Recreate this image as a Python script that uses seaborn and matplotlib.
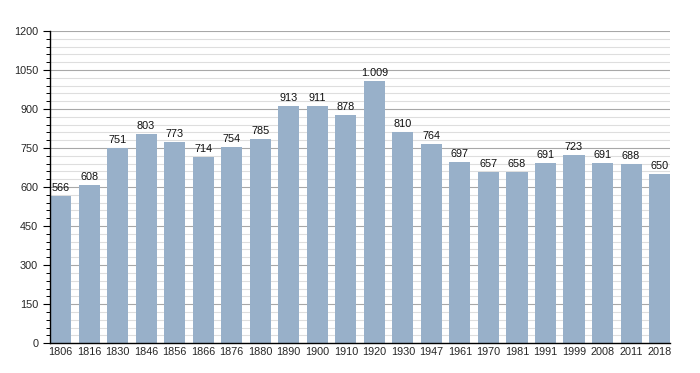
import numpy as np
import pandas as pd
import seaborn as sns
import matplotlib.pyplot as plt
from matplotlib.ticker import MultipleLocator, FuncFormatter

# Population by census year
years = ["1806", "1816", "1830", "1846", "1856", "1866", "1876", "1880", "1890", "1900", "1910",
         "1920", "1930", "1947", "1961", "1970", "1981", "1991", "1999", "2008", "2011", "2018"]
population = [566, 608, 751, 803, 773, 714, 754, 785, 913, 911, 878,
              1009, 810, 764, 697, 657, 658, 691, 723, 691, 688, 650]
labels = ["566", "608", "751", "803", "773", "714", "754", "785", "913", "911", "878",
          "1.009", "810", "764", "697", "657", "658", "691", "723", "691", "688", "650"]

df = pd.DataFrame({"year": years, "population": population})

sns.set_style("white")
plt.rcParams["font.family"] = ["Liberation Sans", "DejaVu Sans"]

fig = plt.figure(figsize=(7, 3.73), dpi=100)
ax = fig.add_axes([0.0714, 0.080, 0.886, 0.837])

sns.barplot(data=df, x="year", y="population", color="#98b0c9", saturation=1,
            width=0.74, ax=ax, linewidth=0, edgecolor="none")
for p in ax.patches:
    p.set_zorder(3)

# gridlines: major every 150, minor every 30
ax.set_ylim(0, 1200)
ax.yaxis.set_major_locator(MultipleLocator(150))
ax.yaxis.set_minor_locator(MultipleLocator(30))
ax.yaxis.set_major_formatter(FuncFormatter(lambda v, pos: f"{int(v)}"))
ax.set_axisbelow(True)
ax.grid(which="major", axis="y", color="#a8a8a8", linewidth=0.8)
ax.grid(which="minor", axis="y", color="#dedede", linewidth=0.8)
ax.set_xlim(-0.37, len(years) - 1 + 0.37)

for i, (v, lab) in enumerate(zip(population, labels)):
    ax.text(i, v + 12, lab, ha="center", va="bottom", fontsize=7.8, color="#111111", zorder=4)

ax.tick_params(axis="y", which="major", direction="out", length=5, width=0.8,
               color="black", labelsize=7.8, left=True)
ax.tick_params(axis="y", which="minor", direction="out", length=3, width=0.7,
               color="black", left=True)
ax.tick_params(axis="x", length=0, labelsize=7.8, pad=3)

for s in ["top", "right"]:
    ax.spines[s].set_visible(False)
for s in ["left", "bottom"]:
    ax.spines[s].set_color("black")
    ax.spines[s].set_linewidth(1.0)
    ax.spines[s].set_zorder(5)

ax.set_xlabel("")
ax.set_ylabel("")

fig.savefig("out.png", dpi=100)
